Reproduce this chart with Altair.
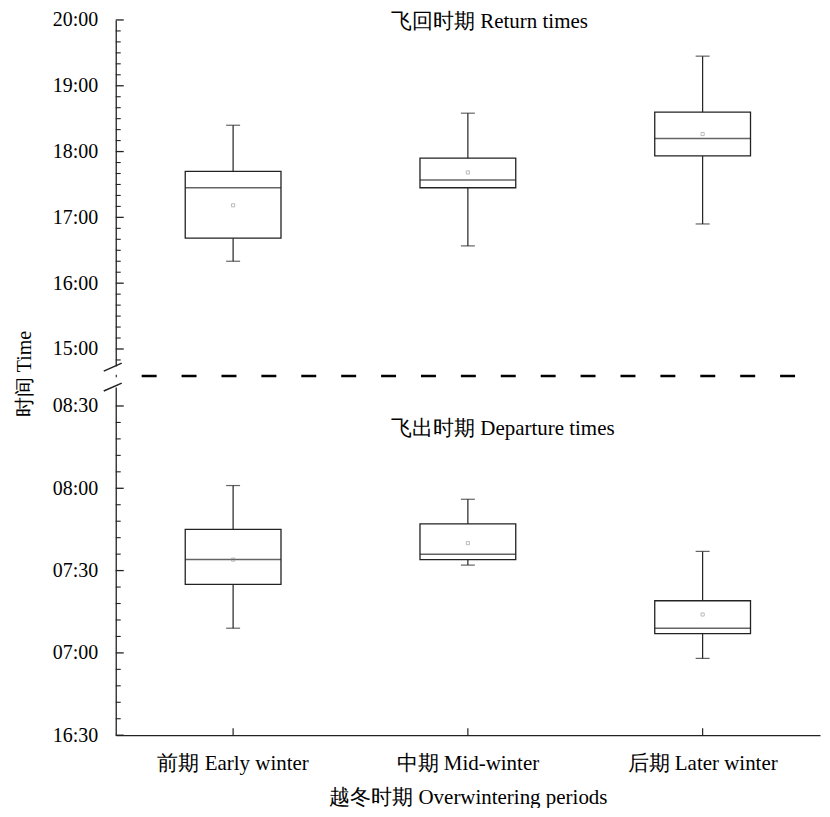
import altair as alt
import pandas as pd
import numpy as np

FONT = "Liberation Serif"

periods = ["前期 Early winter", "中期 Mid-winter", "后期 Later winter"]

# Return times (top panel)
ret_min = ["16:20", "16:34", "16:54"]
ret_q1 = ["16:41", "17:27", "17:56"]
ret_med = ["17:27", "17:34", "18:12"]
ret_q3 = ["17:42", "17:54", "18:36"]
ret_max = ["18:24", "18:35", "19:27"]
ret_mean = ["17:11", "17:41", "18:16"]

# Departure times (bottom panel)
dep_min = ["07:09", "07:32", "06:58"]
dep_q1 = ["07:25", "07:34", "07:07"]
dep_med = ["07:34", "07:36", "07:09"]
dep_q3 = ["07:45", "07:47", "07:19"]
dep_max = ["08:01", "07:56", "07:37"]
dep_mean = ["07:34", "07:40", "07:14"]

top_tick_vals = [15, 16, 17, 18, 19, 20]
top_tick_labels = ["15:00", "16:00", "17:00", "18:00", "19:00", "20:00"]
bot_tick_vals = [6.5, 7, 7.5, 8, 8.5]
bot_tick_labels = ["16:30", "07:00", "07:30", "08:00", "08:30"]


def h(s):
    hh, mm = s.split(":")
    return int(hh) + int(mm) / 60.0


def frame(mn, q1, md, q3, mx, mean):
    return pd.DataFrame({
        "period": periods,
        "lo": [h(v) for v in mn], "q1": [h(v) for v in q1],
        "med": [h(v) for v in md], "q3": [h(v) for v in q3],
        "hi": [h(v) for v in mx], "mean": [h(v) for v in mean],
    })


top_df = frame(ret_min, ret_q1, ret_med, ret_q3, ret_max, ret_mean)
bot_df = frame(dep_min, dep_q1, dep_med, dep_q3, dep_max, dep_mean)

W = 706
H_TOP = 347
H_BOT = 349
LINE = "#222222"


def label_expr(vals, labels):
    expr = "''"
    for v, l in reversed(list(zip(vals, labels))):
        expr = f"abs(datum.value - {v}) < 0.001 ? '{l}' : ({expr})"
    return expr


def panel(df, domain, height, tvals, tlabels, minor_vals, show_x):
    xs = alt.Scale(domain=periods, paddingInner=0, paddingOuter=0)
    ys = alt.Scale(domain=domain, nice=False, zero=False)
    if show_x:
        xax = alt.Axis(title="越冬时期 Overwintering periods", labelAngle=0,
                       ticks=False, labelPadding=17, titlePadding=13,
                       labelFontSize=21, titleFontSize=21,
                       domainColor=LINE, domainWidth=1.3)
    else:
        xax = None
    yax = alt.Axis(title=None, values=tvals, labelExpr=label_expr(tvals, tlabels),
                   ticks=False, labelPadding=18, domainColor=LINE, domainWidth=1.3,
                   grid=False)
    X = alt.X("period:N", scale=xs, axis=xax, sort=periods)
    base = alt.Chart(df)
    whisk_up = base.mark_rule(color=LINE, strokeWidth=1.2).encode(
        x=X, y=alt.Y("q3:Q", scale=ys, axis=yax), y2="hi:Q")
    whisk_dn = base.mark_rule(color=LINE, strokeWidth=1.2).encode(
        x=X, y=alt.Y("lo:Q", scale=ys), y2="q1:Q")
    box = base.mark_bar(size=96, fill="white", stroke=LINE, strokeWidth=1.3).encode(
        x=X, y=alt.Y("q1:Q", scale=ys), y2="q3:Q")
    med = base.mark_tick(size=96, thickness=1.5, color=LINE).encode(
        x=X, y=alt.Y("med:Q", scale=ys))
    cap_hi = base.mark_tick(size=14, thickness=1.2, color=LINE).encode(
        x=X, y=alt.Y("hi:Q", scale=ys))
    cap_lo = base.mark_tick(size=14, thickness=1.2, color=LINE).encode(
        x=X, y=alt.Y("lo:Q", scale=ys))
    mean = base.mark_point(shape="square", size=10, filled=False, color="#888888",
                           strokeWidth=0.8).encode(x=X, y=alt.Y("mean:Q", scale=ys))
    major = alt.Chart(pd.DataFrame({"v": tvals})).mark_rule(
        color=LINE, strokeWidth=1.3).encode(
        y=alt.Y("v:Q", scale=ys), x=alt.value(0), x2=alt.value(8))
    minor = alt.Chart(pd.DataFrame({"v": minor_vals})).mark_rule(
        color=LINE, strokeWidth=1.1).encode(
        y=alt.Y("v:Q", scale=ys), x=alt.value(0), x2=alt.value(5))
    layers = [box, whisk_up, whisk_dn, med, cap_hi, cap_lo, mean, major, minor]
    if show_x:
        xt = alt.Chart(pd.DataFrame({"period": periods})).mark_rule(
            color=LINE, strokeWidth=1.2).encode(
            x=alt.X("period:N", scale=xs, sort=periods),
            y=alt.value(height - 7), y2=alt.value(height))
        layers.append(xt)
    return layers


top_minor = [v for v in np.round(np.arange(14 + 50 / 60, 20.0001, 1 / 6), 4)
             if all(abs(v - t) > 1e-3 for t in top_tick_vals)]
bot_minor = [v for v in np.round(np.arange(6.5, 8.6, 0.1), 4)
             if all(abs(v - t) > 1e-3 for t in bot_tick_vals)]

one = pd.DataFrame({"t": ["飞回时期 Return times"]})
top_title = alt.Chart(one).mark_text(font=FONT, fontSize=21, align="left",
                                     baseline="middle", color="black").encode(
    text="t:N", x=alt.value(276), y=alt.value(2))
ytitle = alt.Chart(pd.DataFrame({"t": ["时间 Time"]})).mark_text(
    font=FONT, fontSize=20, angle=270, align="center", baseline="middle",
    color="black").encode(text="t:N", x=alt.value(-91), y=alt.value(355))
dash = alt.Chart(one).mark_rule(color="black", strokeWidth=2.5,
                                strokeDash=[15, 25], strokeDashOffset=-26).encode(
    x=alt.value(0), x2=alt.value(W), y=alt.value(357))
slash1 = alt.Chart(one).mark_rule(color=LINE, strokeWidth=1.5).encode(
    x=alt.value(-12), x2=alt.value(6), y=alt.value(352), y2=alt.value(344))
slash2 = alt.Chart(one).mark_rule(color=LINE, strokeWidth=1.5).encode(
    x=alt.value(-12), x2=alt.value(6), y=alt.value(372), y2=alt.value(364))

top = alt.layer(*panel(top_df, [14.74, 20], H_TOP, top_tick_vals, top_tick_labels,
                       top_minor, False),
                top_title, ytitle, dash, slash1, slash2).properties(
    width=W, height=H_TOP)

bot_title = alt.Chart(pd.DataFrame({"t": ["飞出时期 Departure times"]})).mark_text(
    font=FONT, fontSize=21, align="left", baseline="middle", color="black").encode(
    text="t:N", x=alt.value(276), y=alt.value(42))
bot = alt.layer(*panel(bot_df, [6.5, 8.615], H_BOT, bot_tick_vals, bot_tick_labels,
                       bot_minor, True),
                bot_title).properties(width=W, height=H_BOT)

chart = alt.vconcat(top, bot, spacing=21, bounds="flush").properties(
    padding={"left": 7, "top": 1, "right": 0, "bottom": 0}
).configure_view(stroke=None).configure_axis(
    labelFont=FONT, titleFont=FONT, labelFontSize=20, titleFontSize=20,
    labelColor="black", titleColor="black", titleFontWeight="normal"
).configure_text(font=FONT)

chart.save("out.html", embed_options={"renderer": "svg", "actions": False})
